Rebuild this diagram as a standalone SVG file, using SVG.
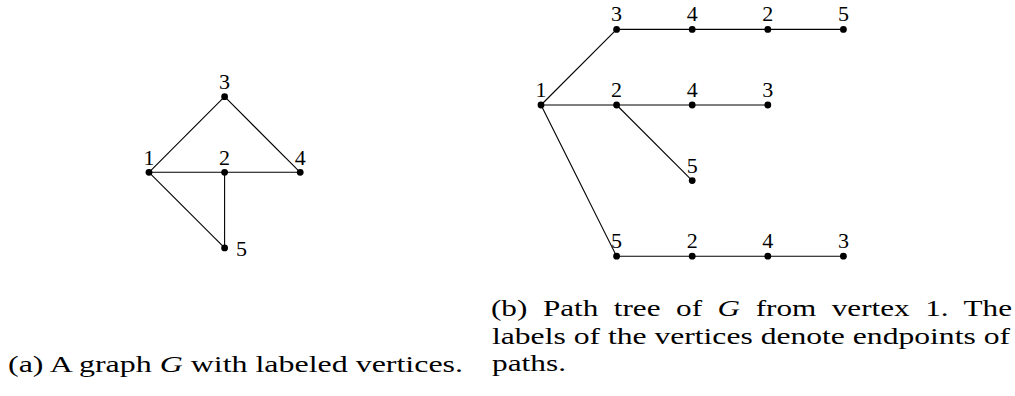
<svg xmlns="http://www.w3.org/2000/svg" width="1015" height="396" viewBox="0 0 1015 396">
<style>
.e{stroke:#000;stroke-width:1.1;fill:none}
.v{fill:#000}
.t{font-family:"Liberation Serif","Times New Roman",serif;font-size:22px;fill:#000}
.c{font-family:"Liberation Serif","Times New Roman",serif;font-size:24px;fill:#000}
.m{text-anchor:middle}
.i{font-style:italic}
</style>
<rect width="1015" height="396" fill="#fff"/>
<g id="connectors">
<line class="e" x1="149" y1="172.3" x2="224.6" y2="96.7"/>
<line class="e" x1="224.6" y1="96.7" x2="300.2" y2="172.3"/>
<line class="e" x1="149" y1="172.3" x2="300.2" y2="172.3"/>
<line class="e" x1="224.6" y1="172.3" x2="224.6" y2="247.9"/>
<line class="e" x1="149" y1="172.3" x2="224.6" y2="247.9"/>
<line class="e" x1="541" y1="105" x2="616.6" y2="29.4"/>
<line class="e" x1="616.6" y1="29.4" x2="843.4" y2="29.4"/>
<line class="e" x1="541" y1="105" x2="767.8" y2="105"/>
<line class="e" x1="616.6" y1="105" x2="692.2" y2="180.6"/>
<line class="e" x1="541" y1="105" x2="616.6" y2="256.2"/>
<line class="e" x1="616.6" y1="256.2" x2="843.4" y2="256.2"/>
</g>
<g id="graphG">
<g id="g1"><circle class="v" cx="149" cy="172.3" r="3.4"/><text class="t m" x="149" y="165">1</text></g>
<g id="g2"><circle class="v" cx="224.6" cy="172.3" r="3.4"/><text class="t m" x="224.6" y="165">2</text></g>
<g id="g3"><circle class="v" cx="224.6" cy="96.7" r="3.4"/><text class="t m" x="224.6" y="89">3</text></g>
<g id="g4"><circle class="v" cx="300.2" cy="172.3" r="3.4"/><text class="t m" x="300.2" y="165">4</text></g>
<g id="g5"><circle class="v" cx="224.6" cy="247.9" r="3.4"/><text class="t" x="236" y="256">5</text></g>
</g>
<g id="tree">
<g id="t1"><circle class="v" cx="541" cy="105" r="3.4"/><text class="t m" x="541" y="97">1</text></g>
<g id="t13"><circle class="v" cx="616.6" cy="29.4" r="3.4"/><text class="t m" x="616.6" y="21">3</text></g>
<g id="t134"><circle class="v" cx="692.2" cy="29.4" r="3.4"/><text class="t m" x="692.2" y="21">4</text></g>
<g id="t1342"><circle class="v" cx="767.8" cy="29.4" r="3.4"/><text class="t m" x="767.8" y="21">2</text></g>
<g id="t13425"><circle class="v" cx="843.4" cy="29.4" r="3.4"/><text class="t m" x="843.4" y="21">5</text></g>
<g id="t12"><circle class="v" cx="616.6" cy="105" r="3.4"/><text class="t m" x="616.6" y="97">2</text></g>
<g id="t124"><circle class="v" cx="692.2" cy="105" r="3.4"/><text class="t m" x="692.2" y="97">4</text></g>
<g id="t1243"><circle class="v" cx="767.8" cy="105" r="3.4"/><text class="t m" x="767.8" y="97">3</text></g>
<g id="t125"><circle class="v" cx="692.2" cy="180.6" r="3.4"/><text class="t m" x="692.2" y="172.5">5</text></g>
<g id="t15"><circle class="v" cx="616.6" cy="256.2" r="3.4"/><text class="t m" x="616.6" y="248">5</text></g>
<g id="t152"><circle class="v" cx="692.2" cy="256.2" r="3.4"/><text class="t m" x="692.2" y="248">2</text></g>
<g id="t1524"><circle class="v" cx="767.8" cy="256.2" r="3.4"/><text class="t m" x="767.8" y="248">4</text></g>
<g id="t15243"><circle class="v" cx="843.4" cy="256.2" r="3.4"/><text class="t m" x="843.4" y="248">3</text></g>
</g>
<g id="captions">
<text class="c" x="8" y="372" textLength="455" lengthAdjust="spacingAndGlyphs">(a) A graph <tspan class="i">G</tspan> with labeled vertices.</text>
<text class="c" x="491" y="316" textLength="521" lengthAdjust="spacingAndGlyphs" word-spacing="6">(b) Path tree of <tspan class="i">G</tspan> from vertex 1. The</text>
<text class="c" x="492" y="343.5" textLength="518" lengthAdjust="spacingAndGlyphs">labels of the vertices denote endpoints of</text>
<text class="c" x="492" y="371" textLength="74" lengthAdjust="spacingAndGlyphs">paths.</text>
</g>
</svg>
